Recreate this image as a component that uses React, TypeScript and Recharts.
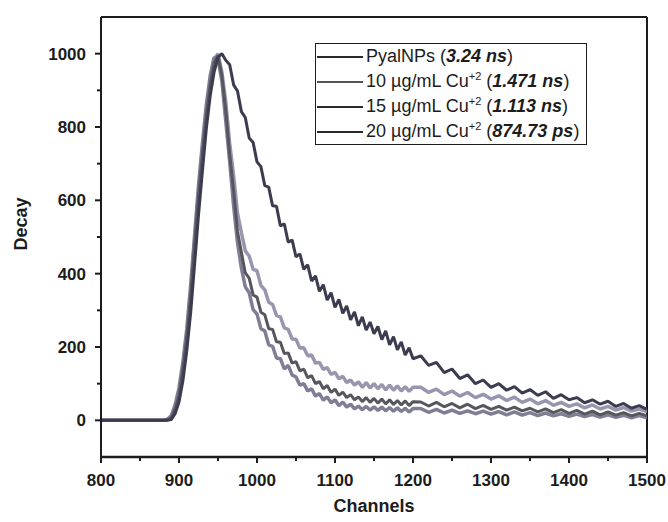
import { LineChart, Line, XAxis, YAxis, Legend, ReferenceLine } from "recharts";

const FONT = "'Liberation Sans', Arial, sans-serif";
const INK = "#1c1c1c";

// channel numbers (x)
const channels = [
  800, 850,
  880, 885, 890, 895, 900, 905, 910, 915, 920, 925,
  930, 935, 940, 945, 950, 955, 960, 965, 970, 975,
  980, 985, 990, 995, 1000, 1005, 1010, 1015, 1020, 1025,
  1030, 1035, 1040, 1045, 1050, 1055, 1060, 1065, 1070, 1075,
  1080, 1085, 1090, 1095, 1100, 1105, 1110, 1115, 1120, 1125,
  1130, 1135, 1140, 1145, 1150, 1155, 1160, 1165, 1170, 1175,
  1180, 1185, 1190, 1195, 1200,
  1210, 1220, 1230, 1240, 1250, 1260, 1270, 1280, 1290, 1300,
  1310, 1320, 1330, 1340, 1350, 1360, 1370, 1380, 1390, 1400,
  1410, 1420, 1430, 1440, 1450, 1460, 1470, 1480, 1490, 1500,
];

// PyalNPs (3.24 ns)
const pyal = [
  0, 0,
  0, 0, 2, 18, 50, 108, 190, 295, 425, 560,
  680, 795, 885, 950, 990, 1000, 982, 970, 915, 898,
  842, 826, 770, 758, 705, 692, 640, 636, 585, 584,
  530, 536, 486, 492, 446, 454, 412, 424, 380, 394,
  352, 370, 328, 348, 308, 330, 292, 312, 274, 296,
  258, 282, 246, 268, 236, 256, 220, 244, 206, 228,
  192, 214, 178, 198, 168,
  176, 150, 158, 130, 140, 114, 124, 100, 110, 90,
  100, 82, 92, 74, 84, 68, 78, 60, 70, 56,
  62, 48, 56, 44, 52, 38, 46, 33, 40, 30,
];

// 10 ug/mL Cu+2 (1.471 ns)
const cu10 = [
  0, 0,
  0, 2, 8, 35, 75, 145, 235, 350, 490, 620,
  735, 840, 925, 985, 1000, 950, 868, 755, 668, 565,
  512, 462, 448, 412, 408, 368, 356, 322, 316, 286,
  282, 252, 248, 222, 221, 197, 198, 176, 178, 156,
  158, 139, 144, 125, 131, 113, 120, 103, 110, 96,
  105, 90, 103, 88, 100, 86, 98, 83, 96, 82,
  94, 80, 92, 79, 90,
  90, 76, 85, 70, 80, 66, 76, 62, 71, 58,
  67, 54, 63, 49, 58, 45, 54, 41, 49, 38,
  45, 34, 42, 31, 38, 28, 35, 25, 31, 24,
];

// 15 ug/mL Cu+2 (1.113 ns)
const cu15 = [
  0, 0,
  0, 1, 6, 30, 68, 138, 225, 340, 478, 610,
  725, 830, 915, 975, 995, 940, 845, 725, 628, 515,
  458, 402, 388, 342, 336, 295, 288, 250, 248, 214,
  213, 182, 184, 156, 160, 135, 140, 116, 122, 100,
  106, 86, 95, 76, 85, 68, 77, 62, 70, 56,
  64, 51, 62, 49, 60, 47, 58, 45, 56, 43,
  54, 42, 53, 40, 51,
  50, 39, 49, 37, 46, 34, 44, 32, 41, 30,
  38, 28, 36, 26, 33, 23, 31, 21, 29, 19,
  27, 17, 25, 15, 23, 14, 21, 12, 19, 12,
];

// 20 ug/mL Cu+2 (874.73 ps)
const cu20 = [
  0, 0,
  0, 3, 12, 42, 88, 160, 250, 370, 505, 640,
  755, 860, 940, 990, 985, 925, 815, 705, 585, 485,
  415, 364, 348, 302, 290, 250, 244, 206, 202, 170,
  168, 140, 150, 124, 118, 96, 100, 80, 86, 66,
  73, 55, 64, 48, 56, 40, 50, 36, 44, 31,
  39, 29, 38, 28, 37, 27, 36, 26, 35, 25,
  34, 24, 33, 23, 32,
  32, 22, 30, 20, 28, 19, 26, 18, 25, 17,
  24, 15, 23, 14, 21, 13, 20, 12, 18, 11,
  17, 10, 16, 9, 15, 8, 14, 7, 13, 7,
];

const xTicks = [800, 850, 900, 950, 1000, 1050, 1100, 1150, 1200, 1250, 1300, 1350, 1400, 1450, 1500];
const yTicks = [0, 100, 200, 300, 400, 500, 600, 700, 800, 900, 1000];

// drawing order: light bands first, dark decay last
const series = [
  { key: "cu10", color: "#9896ae", width: 3.5, name: "10 µg/mL Cu", sup: "+2", life: "1.471 ns" },
  { key: "cu20", color: "#807e94", width: 3.5, name: "20 µg/mL Cu", sup: "+2", life: "874.73 ps" },
  { key: "cu15", color: "#56565f", width: 3, name: "15 µg/mL Cu", sup: "+2", life: "1.113 ns" },
  { key: "pyal", color: "#3c3c50", width: 3, name: "PyalNPs", sup: "", life: "3.24 ns" },
];
const legendOrder = ["pyal", "cu10", "cu15", "cu20"];

const data = channels.map((ch, i) => ({
  ch,
  pyal: pyal[i],
  cu10: cu10[i],
  cu15: cu15[i],
  cu20: cu20[i],
}));

const XTick = ({ x, y, payload }: any) => {
  const major = payload.value % 100 === 0;
  return (
    <g>
      <line x1={x} x2={x} y1={y} y2={y + (major ? 6 : 4)} stroke={INK} strokeWidth={2} />
      {major && (
        <text x={x} y={y + 29} textAnchor="middle" fontFamily={FONT} fontSize={17} fontWeight="bold" fill={INK}>
          {payload.value}
        </text>
      )}
    </g>
  );
};

const YTick = ({ x, y, payload }: any) => {
  const major = payload.value % 200 === 0;
  return (
    <g>
      <line x1={x - (major ? 6 : 4)} x2={x} y1={y} y2={y} stroke={INK} strokeWidth={2} />
      {major && (
        <text x={x - 15} y={y + 6} textAnchor="end" fontFamily={FONT} fontSize={17} fontWeight="bold" fill={INK}>
          {payload.value}
        </text>
      )}
    </g>
  );
};

const LegendBox = () => (
  <div
    style={{
      border: `1.5px solid ${INK}`,
      background: "#fff",
      fontFamily: FONT,
      fontSize: 18,
      color: INK,
      padding: "0 4px 0 1px",
    }}
  >
    {legendOrder.map((k) => {
      const s = series.find((d) => d.key === k)!;
      return (
        <div key={k} style={{ display: "flex", alignItems: "center", height: 25, whiteSpace: "nowrap" }}>
          <svg width={46} height={4} style={{ flex: "none" }}>
            <line x1={0} x2={46} y1={2} y2={2} stroke={k === "cu10" ? "#555" : "#2a2a2a"} strokeWidth={2} />
          </svg>
          <span style={{ marginLeft: 3 }}>
            {s.name}
            {s.sup && <sup style={{ fontSize: 11, lineHeight: 0 }}>{s.sup}</sup>} (
            <b>
              <i>{s.life}</i>
            </b>
            )
          </span>
        </div>
      );
    })}
  </div>
);

export default function App() {
  return (
    <div style={{ position: "absolute", left: 0, top: 0, background: "#fff" }}>
      <LineChart width={668} height={522} data={data} margin={{ top: 17, right: 21, bottom: 0, left: 0 }}>
        <XAxis
          dataKey="ch"
          type="number"
          domain={[800, 1500]}
          ticks={xTicks}
          interval={0}
          height={65}
          tickSize={0}
          tickMargin={0}
          tickLine={false}
          tick={<XTick />}
          axisLine={{ stroke: INK, strokeWidth: 2.5 }}
          allowDataOverflow
          label={() => (
            <text x={374} y={512} textAnchor="middle" fontFamily={FONT} fontSize={18} fontWeight="bold" fill={INK}>
              Channels
            </text>
          )}
        />
        <YAxis
          type="number"
          domain={[-100, 1100]}
          ticks={yTicks}
          interval={0}
          width={101}
          tickSize={0}
          tickMargin={0}
          tickLine={false}
          tick={<YTick />}
          axisLine={{ stroke: INK, strokeWidth: 2 }}
          allowDataOverflow
          label={() => (
            <text
              x={27}
              y={224}
              transform="rotate(-90, 27, 224)"
              textAnchor="middle"
              fontFamily={FONT}
              fontSize={18}
              fontWeight="bold"
              fill={INK}
            >
              Decay
            </text>
          )}
        />
        <ReferenceLine y={1100} stroke={INK} strokeWidth={2} />
        <ReferenceLine x={1500} stroke={INK} strokeWidth={2} />
        {series.map((s) => (
          <Line
            key={s.key}
            type="linear"
            dataKey={s.key}
            stroke={s.color}
            strokeWidth={s.width}
            strokeLinejoin="bevel"
            dot={false}
            isAnimationActive={false}
          />
        ))}
        <Legend
          layout="horizontal"
          verticalAlign="middle"
          align="center"
          wrapperStyle={{ left: 315, top: 43, width: 272 }}
          content={() => <LegendBox />}
        />
      </LineChart>
    </div>
  );
}
